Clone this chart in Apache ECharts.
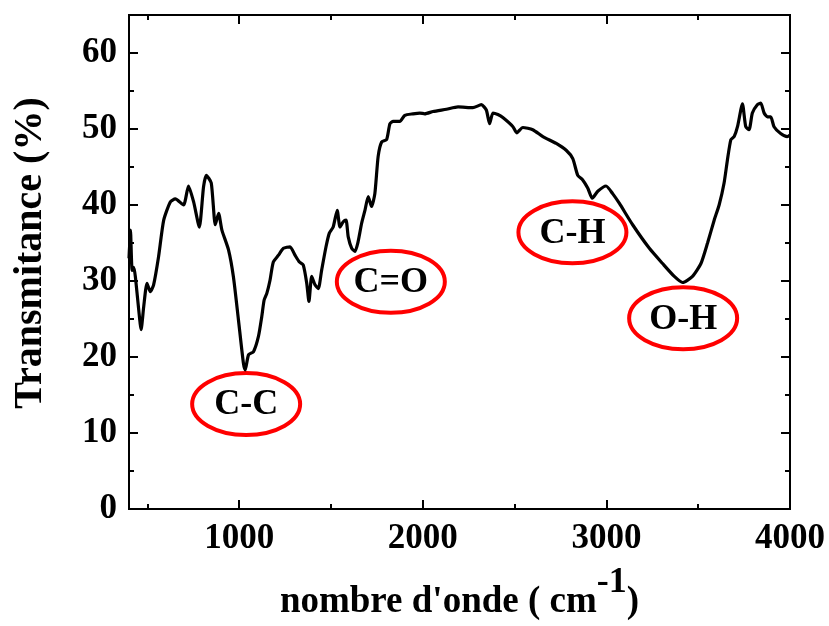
<!DOCTYPE html>
<html><head><meta charset="utf-8">
<script src="https://cdn.jsdelivr.net/npm/echarts@6/dist/echarts.min.js"></script>
<style>html,body{margin:0;padding:0;background:#fff}#c{width:829px;height:626px}</style>
</head><body><div id="c"></div>
<script>
// ---- data ----
const wavenumbers = [400,408,417,426,435,453,466,480,498,516,534,561,589,625,652,697,724,752,783,806,821,848,870,888,906,942,969,996,1023,1033,1051,1078,1105,1123,1136,1151,1168,1186,1214,1241,1277,1304,1328,1349,1368,1380,1395,1413,1431,1449,1473,1491,1512,1534,1549,1567,1582,1594,1613,1631,1648,1667,1685,1703,1721,1739,1757,1776,1803,1821,1839,1875,1902,1947,1984,2011,2056,2129,2192,2273,2319,2346,2364,2382,2409,2436,2491,2512,2545,2599,2654,2727,2781,2817,2844,2871,2899,2923,2953,2998,3034,3071,3143,3234,3306,3370,3415,3469,3515,3551,3587,3614,3641,3659,3678,3696,3714,3741,3759,3777,3795,3822,3841,3859,3877,3895,3913,3949,3985,4000];
const transmittance = [33.0,36.7,31.4,31.8,30.5,26.2,23.6,26.6,29.7,28.6,29.5,33.2,38.0,40.4,40.8,40.0,42.5,40.4,37.1,42.4,43.9,42.9,37.4,38.9,36.7,34.1,30.5,24.9,19.2,18.3,20.3,20.7,22.7,25.3,27.5,28.4,30.1,32.5,33.4,34.3,34.5,33.4,32.5,32.1,29.7,27.3,30.6,29.5,29.0,31.4,34.5,36.3,37.1,39.3,37.1,37.8,38.0,35.8,34.3,33.9,35.2,37.6,39.3,41.1,39.8,41.5,46.4,48.3,48.6,50.7,51.0,51.0,51.8,52.0,52.1,52.0,52.3,52.6,52.9,52.8,53.2,52.5,50.7,52.1,51.9,51.5,50.3,49.5,50.2,49.9,49.0,48.1,47.2,46.1,43.9,43.3,42.2,40.9,41.8,42.5,41.5,40.2,37.4,34.3,32.3,30.6,29.8,30.6,32.3,35.0,38.0,40.0,42.9,45.9,48.6,49.0,50.3,53.3,50.3,49.9,52.1,53.2,53.4,52.1,51.6,51.6,50.3,49.4,49.0,49.2];
const xMajorTicks = [1000,2000,3000,4000];
const xMinorTicks = [500,1500,2500,3500];
const yMajorTicks = [0,10,20,30,40,50,60];
const yMinorTicks = [5,15,25,35,45,55];
const bandLabels = ['C-C','C=O','C-H','O-H'];
const bandX = [1038,1826,2815,3418];
const bandY = [13.8,29.9,36.4,25.1];

// ---- chart ----
const FONT = '"Liberation Serif","Times New Roman",serif';
const chart = echarts.init(document.getElementById('c'), null, {renderer:'canvas'});

function mkAxis(kind, pos, ticks, len, labels, line, extra) {
  const isX = kind === 'x';
  const ax = {
    type:'value', position:pos,
    min: isX ? 400 : 0, max: isX ? 4000 : 65,
    axisLine:{show:line, onZero:false, lineStyle:{color:'#000', width:2}},
    axisTick:{show:true, inside:true, length:len, customValues:ticks, lineStyle:{color:'#000', width:2}},
    axisLabel:{show:labels, customValues:ticks, formatter:(v)=>String(v), color:'#000', fontSize:35, fontWeight:'bold', fontFamily:FONT, margin: isX ? 12 : 12},
    splitLine:{show:false}, minorTick:{show:false}
  };
  return Object.assign(ax, extra || {});
}

const option = {
  animation:false,
  backgroundColor:'#fff',
  grid:{left:129, right:39, top:15, bottom:117, show:true, borderColor:'#000', borderWidth:2, containLabel:false, outerBoundsMode:'none'},
  xAxis:[
    mkAxis('x','bottom',xMajorTicks,9,true,true,{
      name:"{a|nombre d'onde ( cm}{b|-1}{a|)}", nameLocation:'middle', nameGap:56,
      nameTextStyle:{rich:{
        a:{fontSize:37, fontWeight:'bold', fontFamily:FONT, color:'#000', lineHeight:56, verticalAlign:'bottom'},
        b:{fontSize:36, fontWeight:'bold', fontFamily:FONT, color:'#000', lineHeight:30, verticalAlign:'top'}
      }}
    }),
    mkAxis('x','bottom',xMinorTicks,5,false,false),
    mkAxis('x','top',xMajorTicks,9,false,true),
    mkAxis('x','top',xMinorTicks,5,false,false)
  ],
  yAxis:[
    mkAxis('y','left',yMajorTicks,9,true,true,{
      name:'Transmitance (%)', nameLocation:'middle', nameGap:78, nameRotate:90,
      nameTextStyle:{fontSize:40, fontWeight:'bold', fontFamily:FONT, color:'#000', padding:[0,0,0,18]}
    }),
    mkAxis('y','left',yMinorTicks,5,false,false),
    mkAxis('y','right',yMajorTicks,9,false,true),
    mkAxis('y','right',yMinorTicks,5,false,false)
  ],
  series:[{
    type:'line', xAxisIndex:0, yAxisIndex:0,
    data: wavenumbers.map((w,i)=>[w, transmittance[i]]),
    symbol:'none', smooth:0.2,
    lineStyle:{color:'#000', width:3.2}
  }]
};
chart.setOption(option);

const graphics = bandLabels.map((t,i)=>{
  const p = chart.convertToPixel({gridIndex:0}, [bandX[i], bandY[i]]);
  return {type:'group', x:p[0], y:p[1], z:100, children:[
    {type:'ellipse', shape:{cx:0, cy:0, rx:54, ry:31}, style:{fill:'none', stroke:'#ff0000', lineWidth:4}},
    {type:'text', style:{text:t, x:0, y:1, align:'center', verticalAlign:'middle', font:'bold 36px ' + FONT, fill:'#000'}}
  ]};
});
chart.setOption({graphic:graphics});
</script>
</body></html>
